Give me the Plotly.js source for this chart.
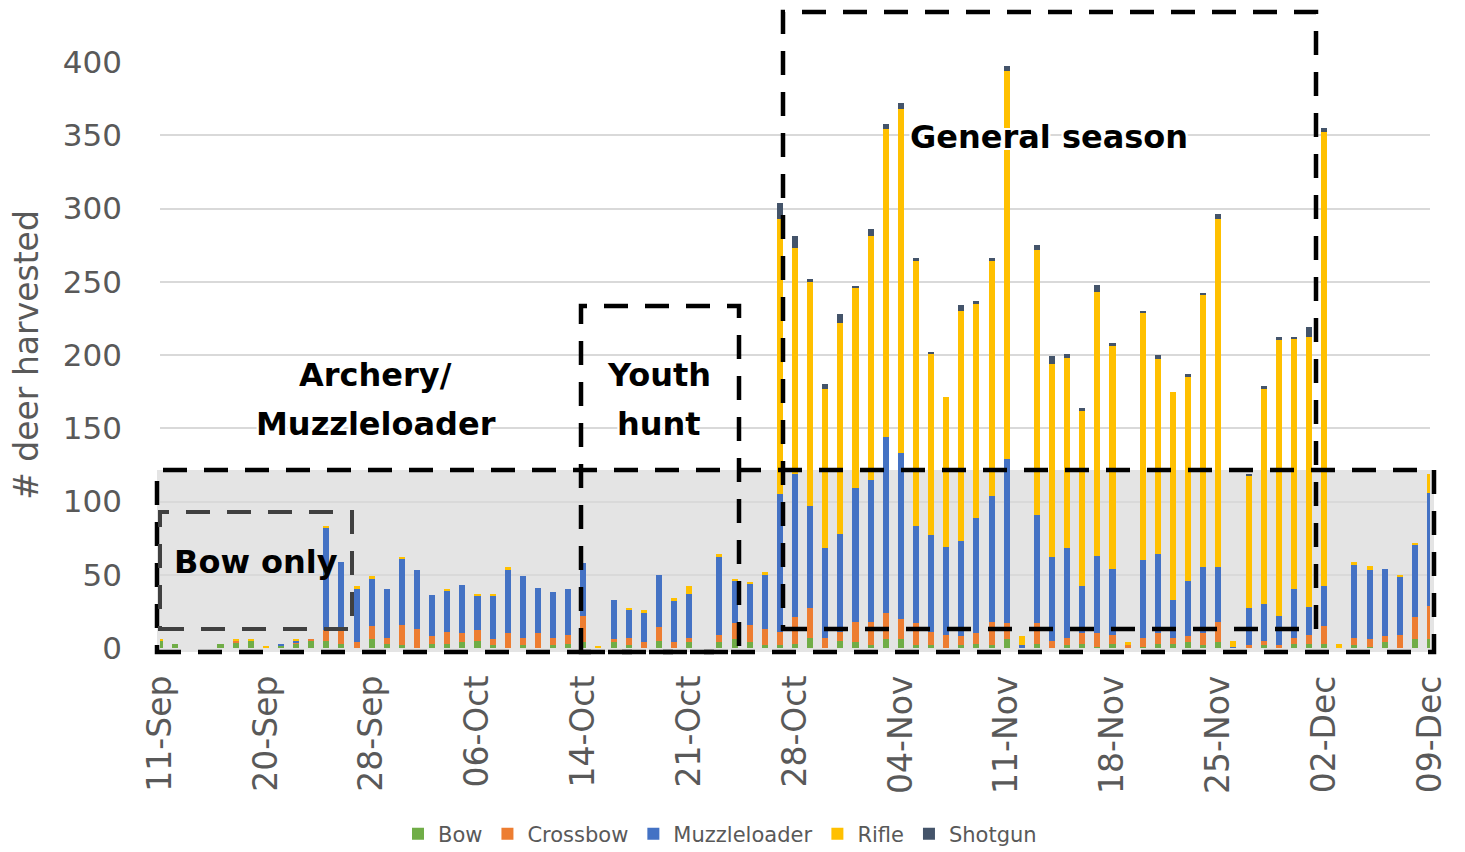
<!DOCTYPE html>
<html><head><meta charset="utf-8">
<script src="https://cdn.plot.ly/plotly-3.0.1.min.js"></script>
<style>html,body{margin:0;padding:0;background:#fff}#chart{width:1465px;height:852px}</style>
</head><body><div id="chart"></div>
<script>
const dates = ["11-Sep","12-Sep","13-Sep","15-Sep","16-Sep","17-Sep","18-Sep","20-Sep",
"21-Sep","22-Sep","23-Sep","24-Sep","25-Sep","26-Sep","28-Sep",
"29-Sep","30-Sep","01-Oct","02-Oct","03-Oct","05-Oct","06-Oct",
"07-Oct","08-Oct","09-Oct","10-Oct","12-Oct","13-Oct","14-Oct",
"15-Oct","16-Oct","17-Oct","18-Oct","19-Oct","20-Oct","21-Oct","22-Oct","23-Oct","24-Oct","25-Oct","26-Oct","27-Oct","28-Oct","29-Oct","30-Oct","31-Oct",
"01-Nov","02-Nov","03-Nov","04-Nov","05-Nov","06-Nov","07-Nov","08-Nov","09-Nov","10-Nov","11-Nov","12-Nov","13-Nov","14-Nov","15-Nov","16-Nov","17-Nov","18-Nov","19-Nov","20-Nov","21-Nov","22-Nov","23-Nov","24-Nov","25-Nov","26-Nov","27-Nov","28-Nov","29-Nov","30-Nov",
"01-Dec","02-Dec","03-Dec","04-Dec","05-Dec","06-Dec","07-Dec","08-Dec","09-Dec"];
const tickLabels = ["11-Sep","20-Sep","28-Sep","06-Oct","14-Oct","21-Oct","28-Oct","04-Nov","11-Nov","18-Nov","25-Nov","02-Dec","09-Dec"];
const yTicks = [0,50,100,150,200,250,300,350,400];

const bow = [5,3,0,0,3,4,5,0,2,3, 5,5,3,0,6,3,2,0,3,3, 4,5,2,0,2,0,2,3,4,0, 4,2,0,5,0,4,0,4,6,4,
  2,2,3,7,0,5,4,2,6,6, 2,2,0,2,3,2,6,0,3,0, 2,3,1,3,0,1,3,3,4,2, 4,0,0,2,0,3,3,3,0,2, 1,4,0,6,6];
const crossbow = [0,0,0,0,0,1,0,0,0,1, 1,7,10,4,9,4,14,13,5,8, 6,7,4,10,5,10,5,6,18,0, 2,5,4,9,4,3,0,5,11,12,
  11,9,18,20,7,6,14,16,18,14, 15,9,9,6,7,16,11,0,14,5, 5,7,9,6,2,6,7,4,4,8, 14,0,2,3,2,4,6,12,0,5, 5,4,9,15,23];
const muzzleloader = [0,0,0,0,0,0,0,0,1,1, 0,70,46,36,32,33,45,40,28,28, 33,24,30,43,42,31,31,31,36,0, 27,19,20,36,28,30,0,53,29,28,
  37,94,98,70,61,67,91,97,120,113, 66,66,60,65,79,86,112,2,74,57, 61,32,53,45,0,53,54,26,38,45, 37,1,25,25,20,33,19,27,0,50, 47,46,40,49,77];
const rifle = [1,0,0,0,0,1,1,1,0,1, 0,1,0,2,2,0,1,0,0,1, 0,1,1,2,0,0,0,0,0,1, 0,1,2,0,2,5,0,2,1,1,
  2,188,154,153,109,144,137,166,210,235, 181,124,102,157,146,160,265,6,181,132, 130,120,180,152,2,169,133,142,139,186, 238,4,91,147,188,171,184,310,3,2, 3,0,1,2,13];
const shotgun = [0,0,0,0,0,0,0,0,0,0, 0,0,0,0,0,0,0,0,0,0, 0,0,0,0,0,0,0,0,0,0, 0,0,0,0,0,0,0,0,0,0,
  0,11,8,2,3,6,1,5,4,4, 2,1,0,4,2,2,3,0,3,5, 3,2,5,2,0,1,3,0,2,1, 3,0,1,2,2,1,7,3,0,0, 0,0,0,0,0];

const seriesNames = ["Bow","Crossbow","Muzzleloader","Rifle","Shotgun"];
const seriesData = [bow, crossbow, muzzleloader, rifle, shotgun];
const seriesColors = ["#70AD47","#ED7D31","#4472C4","#FFC000","#44546A"];

// plot frame (pixels) used to place decorative boxes/labels
const L = 160, R = 1430, T = 62, B = 648;
const px = v => (v - L) / (R - L);
const py = v => (B - v) / (B - T);

const traces = seriesNames.map((n, i) => ({
  type: "bar", name: n, x: dates, y: seriesData[i],
  marker: {color: seriesColors[i], line: {width: 0}},
  hoverinfo: "x+y+name"
}));

const dashPat = "24px,17px";
function box(x0, y0, x1, y1, color, w) {
  return {type: "rect", xref: "paper", yref: "paper",
    x0: px(x0), x1: px(x1), y0: py(y1), y1: py(y0),
    line: {color: color, width: w, dash: dashPat}, fillcolor: "rgba(0,0,0,0)", layer: "above"};
}
const shapes = [
  {type: "rect", xref: "paper", yref: "paper", x0: px(157), x1: px(1434), y0: py(652), y1: py(470),
   fillcolor: "#e4e4e4", line: {width: 0}, layer: "below"},
  box(157, 470, 1434, 652, "#000", 4.5),
  box(160, 512, 352, 629, "#404040", 4),
  box(581, 306, 739, 652, "#000", 4.5),
  box(783, 12, 1316, 629, "#000", 4.5)
];

const halo = "-2px -2px 0 #fff, 2px -2px 0 #fff, -2px 2px 0 #fff, 2px 2px 0 #fff, 0 2px 0 #fff, 0 -2px 0 #fff, 2px 0 0 #fff, -2px 0 0 #fff";
function label(text, x, y, shadow) {
  const f = {family: "DejaVu Sans", size: 32, color: "#000", weight: 700};
  if (shadow) f.shadow = halo;
  return {xref: "paper", yref: "paper", x: px(x), y: py(y), text: text, showarrow: false,
    xanchor: "center", yanchor: "middle", font: f};
}
const annotations = [
  label("Archery/", 375, 375, true),
  label("Muzzleloader", 376, 424, true),
  label("Youth", 659, 375, true),
  label("hunt", 659, 424, true),
  label("General season", 1049, 137, true),
  label("Bow only", 256, 562, false)
];

const layout = {
  width: 1465, height: 852,
  margin: {l: L, r: 1465 - R, t: T, b: 852 - B, autoexpand: false},
  paper_bgcolor: "#fff", plot_bgcolor: "rgba(0,0,0,0)",
  barmode: "stack", bargap: 0.6,
  font: {family: "DejaVu Sans", color: "#595959"},
  xaxis: {type: "category", range: [0, dates.length - 1], tickvals: tickLabels, ticktext: tickLabels,
    tickangle: -90, tickfont: {size: 33, color: "#595959"}, showgrid: false, zeroline: false,
    ticks: "", ticklabelstandoff: 20, automargin: false, fixedrange: true},
  yaxis: {range: [0, 400], tickvals: yTicks, tickfont: {size: 31, color: "#595959"},
    gridcolor: "#d9d9d9", gridwidth: 2, zeroline: false, ticks: "", ticklabelstandoff: 37,
    automargin: false, fixedrange: true,
    title: {text: "# deer harvested", font: {size: 33, color: "#595959"}, standoff: 14}},
  legend: {orientation: "h", x: px(398), xanchor: "left", y: py(834), yanchor: "middle",
    font: {size: 21, color: "#595959"}, traceorder: "normal", itemclick: false, itemdoubleclick: false},
  shapes: shapes,
  annotations: annotations
};
Plotly.newPlot("chart", traces, layout, {displayModeBar: false, responsive: false});
</script>
</body></html>
